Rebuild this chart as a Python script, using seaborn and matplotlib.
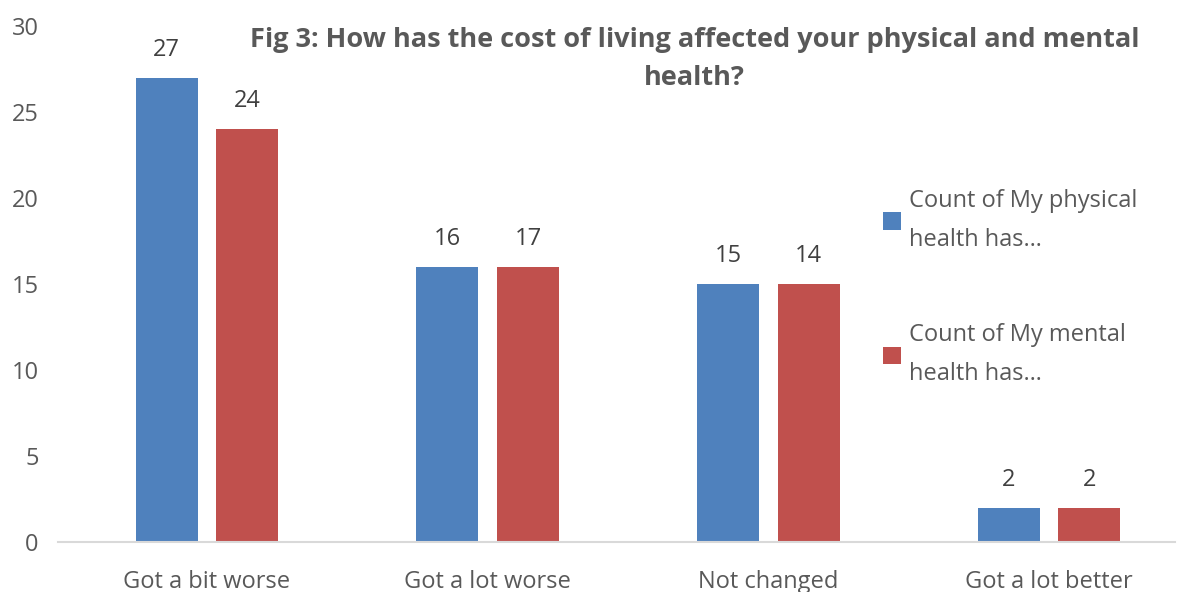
import matplotlib
matplotlib.use("Agg")
import matplotlib.pyplot as plt
import seaborn as sns
import pandas as pd
from matplotlib.patches import Patch

categories = ["Got a bit worse", "Got a lot worse", "Not changed", "Got a lot better"]
series_names = ["Count of My physical\nhealth has…", "Count of My mental\nhealth has…"]
physical_bars = [27, 16, 15, 2]
mental_bars = [24, 16, 15, 2]
physical_labels = ["27", "16", "15", "2"]
mental_labels = ["24", "17", "14", "2"]

colors = ["#4F81BD", "#C0504D"]
text_grey = "#595959"

rows = []
for name, vals in zip(series_names, [physical_bars, mental_bars]):
    for cat, v in zip(categories, vals):
        rows.append({"category": cat, "series": name, "count": v})
df = pd.DataFrame(rows)

sns.set_style("white")
plt.rcParams["font.family"] = ["Open Sans", "DejaVu Sans"]

fig = plt.figure(figsize=(11.77, 5.92), dpi=100)
ax = fig.add_axes([0.0493, 0.0845, 0.949, 0.8716])

sns.barplot(data=df, x="category", y="count", hue="series", palette=colors,
            saturation=1, width=0.574, gap=0.23, linewidth=0, legend=False, ax=ax)

for cont, labs in zip(ax.containers, [physical_labels, mental_labels]):
    ax.bar_label(cont, labels=labs, padding=11.5, fontsize=17, color="#404040")

ax.set_ylim(0, 30)
ax.set_xlim(-0.531, 3.449)
ax.set_yticks([0, 5, 10, 15, 20, 25, 30])
ax.set_xlabel("")
ax.set_ylabel("")
ax.tick_params(axis="both", length=0, labelsize=17, colors=text_grey)
ax.tick_params(axis="y", pad=14)
ax.tick_params(axis="x", pad=20)
for s in ["top", "right", "left"]:
    ax.spines[s].set_visible(False)
ax.spines["bottom"].set_color("#D9D9D9")
ax.spines["bottom"].set_linewidth(1.5)

handles = [Patch(facecolor=c, edgecolor="none") for c in colors]
leg = ax.legend(handles, series_names, loc="upper left", bbox_to_anchor=(0.72, 0.726),
                frameon=False, fontsize=17, handlelength=0.75, handleheight=0.75,
                handletextpad=0.35, labelspacing=3.0, labelcolor=text_grey)
for t in leg.get_texts():
    t.set_linespacing(1.85)

fig.text(0.59, 0.9,
         "Fig 3: How has the cost of living affected your physical and mental\nhealth?",
         ha="center", va="center", fontsize=19.5, fontweight="bold", color=text_grey,
         linespacing=1.62)

fig.savefig("out.png", dpi=100)
